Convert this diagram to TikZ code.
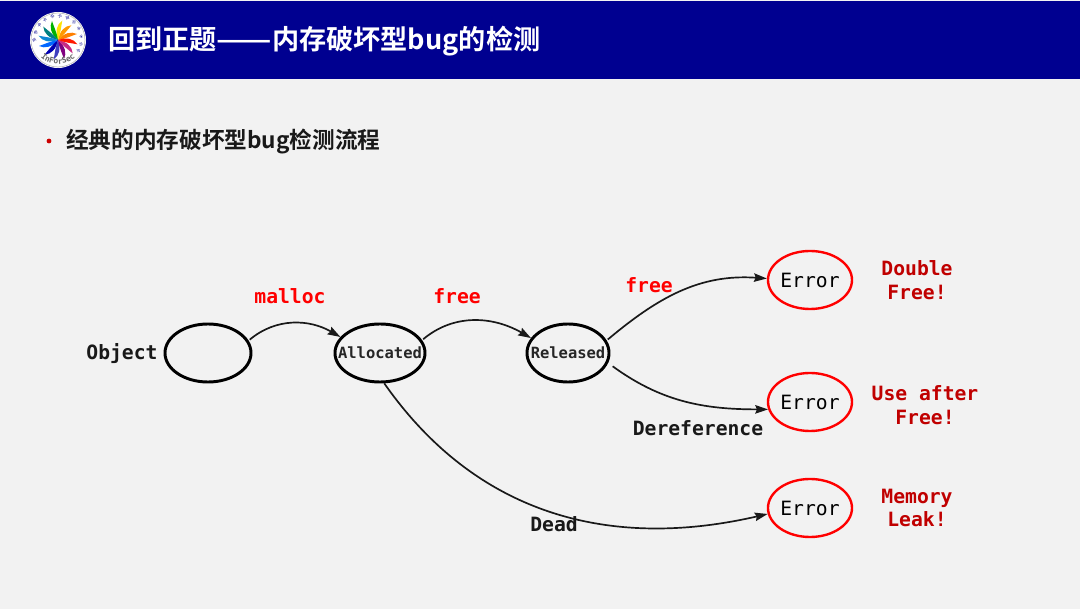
\documentclass[tikz,border=0pt]{standalone}
\usepackage{fontspec}
\setmonofont{DejaVu Sans Mono}
\newfontfamily\cjkbold[BoldFont={Noto Sans CJK SC Bold}]{Noto Sans CJK SC}
\usetikzlibrary{arrows.meta,positioning,calc,shapes.geometric,decorations.text}
\definecolor{headblue}{HTML}{000090}
\definecolor{slidegray}{HTML}{F2F2F2}
\definecolor{leakred}{HTML}{C00000}
\begin{document}
\begin{tikzpicture}[
    x=0.025cm, y=-0.025cm,
    state/.style={draw=black, ellipse, line width=2.1pt, inner xsep=-0.4cm, inner ysep=0pt, minimum height=1.45cm, font=\ttfamily\bfseries\fontsize{11}{13}\selectfont, text=black!85},
    err/.style={draw=red, ellipse, line width=1.7pt, inner sep=0pt, minimum width=2.1cm, minimum height=1.45cm, font=\ttfamily\fontsize{14}{16}\selectfont, text=black},
    arr/.style={-{Stealth[length=3.2mm, width=2.1mm, inset=0.4mm]}, line width=1.2pt, black!90},
    lab/.style={font=\ttfamily\bfseries\fontsize{14}{16}\selectfont, text=black!90},
    act/.style={font=\ttfamily\bfseries\fontsize{14}{16}\selectfont, text=red},
    note/.style={font=\ttfamily\bfseries\fontsize{14}{17}\selectfont, text=leakred, align=center},
]
\useasboundingbox (0,0) rectangle (1080,609);
\fill[slidegray] (0,0) rectangle (1080,609);

% Header
\fill[headblue] (0,1) rectangle (1080,79);
\node[font=\cjkbold\bfseries\fontsize{19.3}{22}\selectfont, text=white, anchor=west, inner sep=0pt] (title) at (108,41) {回到正题\scalebox{1.2}[1]{——}内存破坏型bug的检测};

% Logo
\fill[white] (58,40) circle[radius=28];
\draw[black!25, line width=0.5pt] (58,40) circle[radius=27];
\foreach \ang/\col in {0/orange, 30/orange!80!yellow, 60/yellow!85!orange, 90/green!70!black, 120/teal, 150/cyan!70!blue, 180/blue!60!cyan, 210/blue!70!black, 240/blue!50!gray, 270/violet, 300/magenta!80!black, 330/red!80!orange}
  \fill[\col, shift={(58,40)}, rotate=\ang] (0,0) .. controls (6,-7) and (13,-9) .. (19,-6) .. controls (13,-4) and (7,-1) .. cycle;
\foreach \ch [count=\i] in {网,络,安,全,研,究,国,际,学,术,论,坛}
  \node[font=\cjkbold\fontsize{2.6}{3}\selectfont, text=headblue, inner sep=0pt, rotate={125-(\i-1)*(19)+(-90)}] (logo\i) at ({58+23.5*cos(125+90-(\i-1)*19-35)},{40-23.5*sin(125+90-(\i-1)*19-35)}) {\ch};
\path[decorate, decoration={text along path, text align=center, text={|\ttfamily\bfseries\fontsize{5.6}{6}\selectfont\color{black!60}|InForSec}}] (37,52) .. controls (44,68) and (72,68) .. (79,52);

% Subtitle
\fill[red!80!black] (49,141) circle[radius=2.4];
\node[font=\cjkbold\bfseries\fontsize{16.1}{19}\selectfont, text=black!90, anchor=west, inner sep=0pt] (subtitle) at (66,142) {经典的内存破坏型bug检测流程};

% States
\node[state, minimum width=2.15cm] (object) at (208,353) {};
\node[state, minimum width=2.25cm] (alloc) at (380,353) {Allocated};
\node[state, minimum width=2.05cm] (released) at (568,353) {Released};
\node[lab] (objlab) at (122,354) {Object};

% Errors
\node[err] (err1) at (810,280) {Error};
\node[err] (err2) at (810,402) {Error};
\node[err] (err3) at (810,508) {Error};
\node[note] (dfree) at (917,280) {Double\\Free!};
\node[note] (uaf) at (925,405) {Use after\\Free!};
\node[note] (leak) at (917,508) {Memory\\Leak!};

% Arrows
\draw[arr, shorten <=1pt] (object.17) to[out=40, in=150] (alloc.158);
\draw[arr, shorten <=1pt] (alloc.17) to[out=40, in=150] (released.158);
\draw[arr, shorten <=1pt] (released.18) to[out=40, in=176] (err1.178);
\draw[arr, shorten <=4pt] (released.-14) to[out=-36, in=180] (err2.190);
\draw[arr] (alloc.-82) to[out=-55, in=193, looseness=1.02] (err3.188);

% Labels
\node[act] (malloc) at (290,296) {malloc};
\node[act] (free1) at (457,296) {free};
\node[act] (free2) at (649,285) {free};
\node[lab] (deref) at (698,428) {Dereference};
\node[lab] (dead) at (554,524) {Dead};
\end{tikzpicture}
\end{document}
